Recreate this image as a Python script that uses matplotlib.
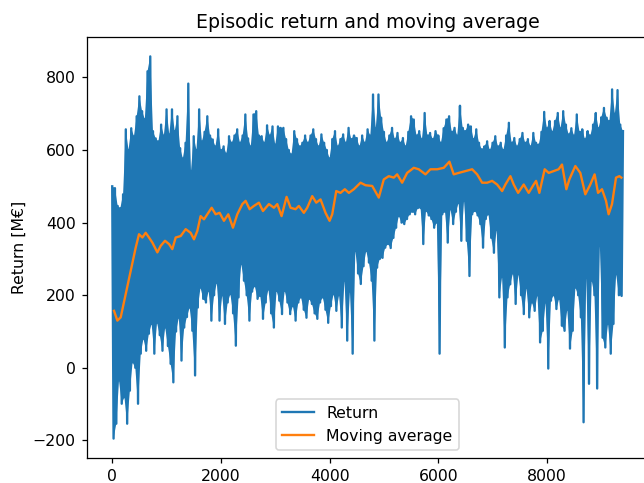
import numpy as np
import matplotlib
matplotlib.use('Agg')
from matplotlib import pyplot as plt

# episodic returns, sampled every 25 episodes: peaks on the even steps, dips on the odd ones
return_peaks = [
    500, 495, 446, 440, 478, 657, 600, 660, 638, 693,
    748, 707, 685, 817, 858, 652, 632, 624, 670, 640,
    712, 643, 712, 652, 693, 605, 577, 620, 783, 542,
    638, 600, 712, 624, 650, 693, 640, 629, 610, 657,
    600, 610, 590, 638, 620, 640, 657, 620, 640, 698,
    632, 610, 698, 707, 640, 638, 620, 668, 640, 665,
    615, 665, 661, 661, 630, 600, 588, 652, 630, 610,
    620, 640, 620, 640, 657, 630, 610, 643, 620, 600,
    577, 630, 652, 610, 630, 643, 620, 661, 630, 640,
    633, 610, 640, 620, 657, 640, 753, 660, 753, 689,
    650, 620, 640, 661, 630, 647, 620, 633, 610, 650,
    693, 684, 640, 652, 630, 702, 640, 647, 630, 652,
    640, 620, 660, 684, 693, 650, 661, 640, 722, 661,
    652, 670, 665, 630, 657, 620, 602, 610, 624, 600,
    620, 638, 610, 620, 600, 640, 675, 620, 633, 610,
    630, 647, 620, 630, 610, 647, 620, 615, 650, 705,
    660, 680, 650, 680, 702, 660, 707, 670, 643, 660,
    640, 698, 650, 657, 630, 652, 640, 670, 702, 660,
    690, 716, 689, 680, 767, 700, 765, 670, 652,
]
return_dips = [
    -195, -154, -35, -99, -81, -154, -63, 15, 0, -99,
    39, 80, 47, 94, 121, 39, 124, 90, 47, 111,
    60, 11, -40, 100, 138, 20, 111, 140, 166, 102,
    -21, 166, 221, 190, 180, 212, 130, 200, 234, 130,
    200, 121, 180, 203, 150, 61, 194, 286, 240, 200,
    130, 210, 225, 190, 198, 135, 180, 216, 150, 111,
    212, 185, 148, 212, 180, 148, 170, 130, 180, 194,
    160, 138, 190, 176, 150, 135, 180, 194, 160, 124,
    170, 203, 157, 200, 111, 240, 75, 210, 39, 322,
    260, 231, 280, 322, 290, 240, 75, 276, 300, 303,
    331, 341, 330, 358, 386, 418, 400, 396, 410, 423,
    430, 423, 440, 440, 341, 432, 420, 410, 386, 400,
    39, 423, 430, 345, 437, 396, 430, 454, 350, 460,
    350, 253, 423, 432, 420, 396, 331, 410, 423, 358,
    317, 380, 194, 250, 56, 194, 230, 260, 176, 258,
    200, 148, 220, 139, 180, 157, 200, 70, 102, 180,
    -2, 185, 200, 162, 190, 116, 102, 160, 53, 102,
    221, 200, 139, -150, 248, -44, 240, 200, -57, 336,
    83, 56, 121, 39, 121, 258, 200, 198,
]

# moving average of the return
ma_episodes = [
    33, 95, 156, 248, 340, 432, 493, 555, 616, 677,
    739, 831, 892, 971, 1045, 1106, 1168, 1260, 1352, 1443,
    1505, 1566, 1627, 1689, 1750, 1830, 1903, 1977, 2056, 2136,
    2222, 2302, 2394, 2455, 2529, 2608, 2700, 2774, 2884, 2976,
    3038, 3117, 3209, 3282, 3374, 3435, 3527, 3589, 3681, 3755,
    3834, 3926, 4000, 4049, 4123, 4202, 4281, 4355, 4447, 4570,
    4662, 4785, 4906, 4998, 5090, 5182, 5244, 5336, 5428, 5550,
    5642, 5765, 5857, 5980, 6102, 6206, 6285, 6377, 6501, 6624,
    6716, 6808, 6900, 6992, 7084, 7176, 7236, 7328, 7389, 7470,
    7573, 7665, 7757, 7801, 7861, 7959, 8033, 8124, 8216, 8278,
    8358, 8413, 8523, 8615, 8707, 8799, 8878, 8941, 9014, 9088,
    9136, 9198, 9272, 9333, 9370,
]
ma_values = [
    157, 130, 139, 203, 267, 331, 368, 359, 372, 359,
    345, 318, 336, 350, 341, 327, 359, 363, 382, 372,
    354, 377, 418, 409, 423, 441, 423, 427, 405, 423,
    386, 423, 451, 460, 437, 446, 455, 432, 451, 441,
    451, 418, 471, 441, 437, 446, 427, 441, 473, 455,
    464, 427, 405, 423, 487, 482, 492, 482, 492, 510,
    503, 501, 469, 519, 528, 524, 533, 510, 537, 551,
    547, 533, 547, 547, 551, 568, 533, 537, 542, 547,
    533, 510, 510, 515, 505, 487, 505, 528, 505, 482,
    505, 482, 505, 515, 482, 547, 537, 542, 547, 560,
    492, 519, 556, 537, 478, 505, 533, 482, 492, 460,
    423, 451, 524, 528, 524,
]

# interleave peaks and dips into one series
returns = []
for i, peak in enumerate(return_peaks):
    returns.append(peak)
    if i < len(return_dips):
        returns.append(return_dips[i])
returns = np.array(returns)
episodes = np.arange(len(returns)) * 25

dpi = 113
fig = plt.figure(figsize=(644 / dpi, 483 / dpi), dpi=dpi)
ax = fig.add_axes([0.1346, 0.0524, 0.8724, 0.8704])

# the band between consecutive peaks and dips
ax.fill(np.concatenate((episodes[0::2], episodes[1::2][::-1])),
        np.concatenate((returns[0::2], returns[1::2][::-1])),
        color='C0', linewidth=0)
ax.plot(episodes, returns, color='C0', label='Return')
ax.plot(ma_episodes, ma_values, color='C1', label='Moving average')

ax.set_title('Episodic return and moving average')
ax.set_ylabel('Return [M€]')
ax.legend(loc='lower center')

fig.savefig('out.png', dpi=dpi)
